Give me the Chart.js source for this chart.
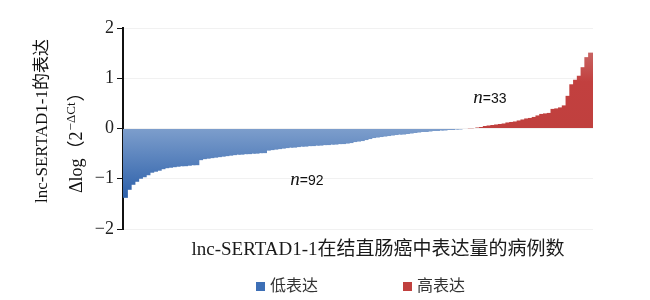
<!DOCTYPE html>
<html><head><meta charset="utf-8">
<script src="https://cdn.jsdelivr.net/npm/chart.js@4"></script>
<style>html,body{margin:0;padding:0;background:#fff}#wrap{width:650px;height:300px}</style>
</head><body><div id="wrap"><canvas id="c" width="650" height="300"></canvas></div>
<script>
// Low expression cases (n=92), sorted
const lowExpr = [-1.38,-1.22,-1.12,-1.06,-1.00,-0.97,-0.93,-0.88,-0.86,-0.84,
  -0.81,-0.79,-0.78,-0.77,-0.76,-0.75,-0.75,-0.74,-0.73,-0.73,
  -0.63,-0.61,-0.60,-0.59,-0.58,-0.57,-0.56,-0.55,-0.54,-0.53,
  -0.52,-0.52,-0.51,-0.51,-0.50,-0.50,-0.49,-0.49,-0.44,-0.43,
  -0.42,-0.41,-0.40,-0.39,-0.38,-0.38,-0.37,-0.36,-0.36,-0.35,
  -0.35,-0.34,-0.34,-0.33,-0.33,-0.32,-0.32,-0.31,-0.31,-0.30,
  -0.29,-0.27,-0.26,-0.25,-0.23,-0.21,-0.19,-0.18,-0.17,-0.16,
  -0.15,-0.14,-0.13,-0.12,-0.12,-0.11,-0.10,-0.09,-0.08,-0.07,
  -0.07,-0.06,-0.05,-0.05,-0.04,-0.04,-0.03,-0.03,-0.02,-0.02,
  -0.01,-0.01];
// High expression cases (n=33), sorted
const highExpr = [0.005,0.01,0.02,0.03,0.05,0.06,0.07,0.08,0.09,0.10,
  0.12,0.13,0.14,0.16,0.18,0.20,0.21,0.23,0.26,0.29,
  0.30,0.31,0.39,0.40,0.42,0.46,0.65,0.88,0.97,1.05,
  1.22,1.42,1.51];
const yTicks = [-2,-1,0,1,2];
const xTitle = 'lnc-SERTAD1-1在结直肠癌中表达量的病例数';
const yTitle1 = 'lnc-SERTAD1-1的表达';
const yTitle2 = ['Δlog（2', '−ΔCt', '）'];
const legendLabels = ['低表达', '高表达'];
const nLabels = [{n:'n', rest:'=92', idx:48.4, v:-1.01}, {n:'n', rest:'=33', idx:97.1, v:0.62}];

const total = lowExpr.length + highExpr.length;
const labels = Array.from({length: total}, (_, i) => i + 1);
const lowData = lowExpr.concat(new Array(highExpr.length).fill(null));
const highData = new Array(lowExpr.length).fill(null).concat(highExpr);

const BLUE = '#3e6db3', RED = '#c0403e';
function blueFill(ctx){
  const ch = ctx.chart; if(!ch.chartArea) return BLUE;
  const y = ch.scales.y;
  const g = ch.ctx.createLinearGradient(0, y.getPixelForValue(0), 0, y.getPixelForValue(-1.4));
  g.addColorStop(0, '#7d9ecc'); g.addColorStop(1, '#2b5fa9'); return g;
}
function redFill(ctx){
  const ch = ctx.chart; if(!ch.chartArea) return RED;
  const y = ch.scales.y;
  const g = ch.ctx.createLinearGradient(0, y.getPixelForValue(1.55), 0, y.getPixelForValue(0));
  g.addColorStop(0, '#c86664'); g.addColorStop(0.4, '#c2403f'); g.addColorStop(1, '#c0403e'); return g;
}

const SERIF = '"Liberation Serif", "Noto Sans CJK SC", serif';
const deco = {
  id: 'deco',
  afterDraw(chart){
    const c = chart.ctx, xs = chart.scales.x, ys = chart.scales.y;
    c.save();
    c.fillStyle = '#111';
    // y title line 1
    c.save();
    c.translate(43, 121); c.rotate(-Math.PI/2);
    c.font = '17px ' + SERIF; c.textAlign = 'center'; c.textBaseline = 'middle';
    c.fillText(yTitle1, 0, 0);
    c.restore();
    // y title line 2
    c.save();
    c.translate(77, 193); c.rotate(-Math.PI/2);
    c.textAlign = 'left'; c.textBaseline = 'middle';
    c.font = '18px ' + SERIF;
    let x0 = 0;
    c.fillText(yTitle2[0], x0, 0); x0 += c.measureText(yTitle2[0]).width + 1;
    c.font = '13px ' + SERIF;
    c.fillText(yTitle2[1], x0, -5); x0 += c.measureText(yTitle2[1]).width + 1;
    c.font = '18px ' + SERIF;
    c.fillText(yTitle2[2], x0, 0);
    c.restore();
    // x title
    c.fillStyle = '#1a1a1a';
    c.font = '19px ' + SERIF; c.textAlign = 'center'; c.textBaseline = 'middle';
    c.fillText(xTitle, 378, 250);
    // legend
    c.font = '16px ' + SERIF; c.textAlign = 'left';
    const items = [{x:256, col:'#3d6fb6', t:legendLabels[0]}, {x:403, col:'#c0403e', t:legendLabels[1]}];
    items.forEach(it => {
      c.fillStyle = it.col; c.fillRect(it.x, 282, 9, 9);
      c.fillStyle = '#333'; c.fillText(it.t, it.x + 14, 287);
    });
    // n labels
    nLabels.forEach(l => {
      const px = xs.getPixelForValue(l.idx), py = ys.getPixelForValue(l.v);
      c.font = 'italic 19px ' + SERIF; c.fillStyle = '#111';
      const w1 = c.measureText(l.n).width;
      c.font = '14px "Liberation Sans", Arial, sans-serif';
      const w2 = c.measureText(l.rest).width;
      let sx = px - (w1 + w2)/2;
      c.font = 'italic 19px ' + SERIF; c.textAlign = 'left'; c.textBaseline = 'alphabetic';
      c.fillText(l.n, sx, py + 6);
      c.font = '14px "Liberation Sans", Arial, sans-serif';
      c.fillText(l.rest, sx + w1, py + 6);
    });
    c.restore();
  }
};

new Chart(document.getElementById('c'), {
  type: 'bar',
  data: { labels, datasets: [
    { label: legendLabels[0], data: lowData, backgroundColor: blueFill, borderWidth: 0, barPercentage: 1.6, categoryPercentage: 1, grouped: false, inflateAmount: 0 },
    { label: legendLabels[1], data: highData, backgroundColor: redFill, borderWidth: 0, barPercentage: 1.6, categoryPercentage: 1, grouped: false, inflateAmount: 0 }
  ]},
  options: {
    responsive: false, animation: false, devicePixelRatio: 1,
    layout: { padding: { left: 73, right: 57, top: 28, bottom: 71 } },
    plugins: { legend: { display: false }, tooltip: { enabled: false } },
    scales: {
      x: { display: false },
      y: {
        min: -2, max: 2,
        afterFit(s){ s.width = 50; },
        afterBuildTicks(s){ s.ticks = yTicks.map(v => ({value: v})); },
        ticks: { font: { family: SERIF, size: 18 }, color: '#222', padding: 3,
          callback: v => v < 0 ? '−' + Math.abs(v) : String(v) },
        grid: { color: '#f1f1f1', tickColor: '#111', tickLength: 6, lineWidth: 1 },
        border: { color: '#111', width: 2 }
      }
    }
  },
  plugins: [deco]
});
</script>
</body></html>
